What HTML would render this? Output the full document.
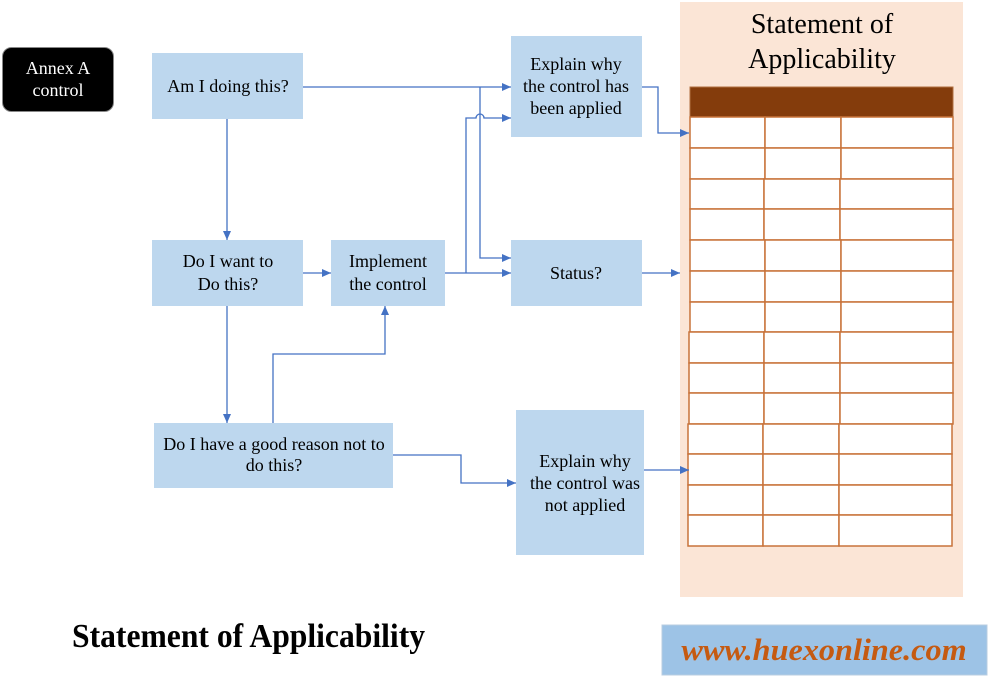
<!DOCTYPE html>
<html><head><meta charset="utf-8"><style>
html,body{margin:0;padding:0;background:#fff;}
body{width:989px;height:683px;overflow:hidden;position:relative;font-family:"Liberation Serif",serif;}
svg{position:absolute;left:0;top:0;}
svg text{font-family:"Liberation Serif",serif;}
</style></head><body>
<svg width="989" height="683" viewBox="0 0 989 683" xmlns="http://www.w3.org/2000/svg">
<defs>
<marker id="ar" markerWidth="10" markerHeight="10" refX="9" refY="5" orient="auto" markerUnits="userSpaceOnUse">
<path d="M0,1 L9,5 L0,9 Z" fill="#4472c4"/>
</marker>
</defs>
<!-- peach panel -->
<rect x="680" y="2" width="283" height="595" fill="#fbe5d6"/>
<text x="822" y="33" font-size="28" text-anchor="middle" fill="#000">Statement of</text>
<text x="822" y="68" font-size="28" text-anchor="middle" fill="#000">Applicability</text>
<!-- table header -->
<rect x="690" y="87" width="263" height="30" fill="#843c0c" stroke="#b07040" stroke-width="1"/>
<!-- table body -->
<g fill="#fff" stroke="#c8733a" stroke-width="1.5">
<rect x="690" y="117" width="75" height="31"/><rect x="765" y="117" width="76" height="31"/><rect x="841" y="117" width="112" height="31"/>
<rect x="690" y="148" width="75" height="31"/><rect x="765" y="148" width="76" height="31"/><rect x="841" y="148" width="112" height="31"/>
<rect x="690" y="179" width="74" height="30"/><rect x="764" y="179" width="76" height="30"/><rect x="840" y="179" width="113" height="30"/>
<rect x="690" y="209" width="74" height="31"/><rect x="764" y="209" width="76" height="31"/><rect x="840" y="209" width="113" height="31"/>
<rect x="690" y="240" width="75" height="31"/><rect x="765" y="240" width="76" height="31"/><rect x="841" y="240" width="112" height="31"/>
<rect x="690" y="271" width="75" height="31"/><rect x="765" y="271" width="76" height="31"/><rect x="841" y="271" width="112" height="31"/>
<rect x="690" y="302" width="75" height="30"/><rect x="765" y="302" width="76" height="30"/><rect x="841" y="302" width="112" height="30"/>
<rect x="689" y="332" width="75" height="31"/><rect x="764" y="332" width="76" height="31"/><rect x="840" y="332" width="113" height="31"/>
<rect x="689" y="363" width="75" height="30"/><rect x="764" y="363" width="76" height="30"/><rect x="840" y="363" width="113" height="30"/>
<rect x="689" y="393" width="75" height="31"/><rect x="764" y="393" width="76" height="31"/><rect x="840" y="393" width="113" height="31"/>
<rect x="688" y="424" width="75" height="30"/><rect x="763" y="424" width="76" height="30"/><rect x="839" y="424" width="113" height="30"/>
<rect x="688" y="454" width="75" height="31"/><rect x="763" y="454" width="76" height="31"/><rect x="839" y="454" width="113" height="31"/>
<rect x="688" y="485" width="75" height="30"/><rect x="763" y="485" width="76" height="30"/><rect x="839" y="485" width="113" height="30"/>
<rect x="688" y="515" width="75" height="31"/><rect x="763" y="515" width="76" height="31"/><rect x="839" y="515" width="113" height="31"/>
</g>

<!-- Annex A -->
<rect x="2.5" y="47.5" width="111" height="64" rx="9" ry="9" fill="#000" stroke="#888" stroke-width="1"/>
<text x="58" y="74" font-size="18" text-anchor="middle" fill="#fff">Annex A</text>
<text x="58" y="96" font-size="18" text-anchor="middle" fill="#fff">control</text>

<!-- boxes -->
<g fill="#bdd7ee">
<rect x="152" y="53" width="151" height="66"/>
<rect x="152" y="240" width="151" height="66"/>
<rect x="331" y="240" width="114" height="66"/>
<rect x="511" y="36" width="131" height="101"/>
<rect x="511" y="240" width="131" height="66"/>
<rect x="154" y="423" width="239" height="65"/>
<rect x="516" y="410" width="128" height="145"/>
</g>
<g font-size="18" text-anchor="middle" fill="#000">
<text x="228" y="92">Am I doing this?</text>
<text x="228" y="267">Do I want to</text>
<text x="228" y="290">Do this?</text>
<text x="388" y="267">Implement</text>
<text x="388" y="290">the control</text>
<text x="576" y="70">Explain why</text>
<text x="576" y="92">the control has</text>
<text x="576" y="114">been applied</text>
<text x="576" y="279">Status?</text>
<text x="274" y="450">Do I have a good reason not to</text>
<text x="274" y="471">do this?</text>
<text x="585" y="467">Explain why</text>
<text x="585" y="489">the control was</text>
<text x="585" y="511">not applied</text>
</g>

<!-- connectors -->
<g fill="none" stroke="#4472c4" stroke-width="1.3">
<path d="M227,119 V240" marker-end="url(#ar)"/>
<path d="M303,87 H511" marker-end="url(#ar)"/>
<path d="M480,87 V258 H511" marker-end="url(#ar)"/>
<path d="M303,273 H331" marker-end="url(#ar)"/>
<path d="M445,273 H511" marker-end="url(#ar)"/>
<path d="M466,273 V118 H476 A4,4 0 0 1 484,118 H511" marker-end="url(#ar)"/>
<path d="M642,87 H658 V133 H689" marker-end="url(#ar)"/>
<path d="M642,273 H680" marker-end="url(#ar)"/>
<path d="M227,306 V423" marker-end="url(#ar)"/>
<path d="M273,423 V354 H385 V306" marker-end="url(#ar)"/>
<path d="M393,455 H461 V483 H516" marker-end="url(#ar)"/>
<path d="M644,470 H689" marker-end="url(#ar)"/>
</g>

<!-- bottom title -->
<text x="72" y="647" font-size="34" font-weight="bold" fill="#000" transform="translate(72,0) scale(0.93,1) translate(-72,0)">Statement of Applicability</text>

<!-- website box -->
<rect x="662" y="625" width="325" height="50" fill="#9dc3e6" stroke="#b8cde0" stroke-width="1"/>
<text x="824" y="660" font-size="31" font-style="italic" font-weight="bold" text-anchor="middle" fill="#c55a11" transform="translate(824,0) scale(1.04,1) translate(-824,0)">www.huexonline.com</text>
</svg>
</body></html>
